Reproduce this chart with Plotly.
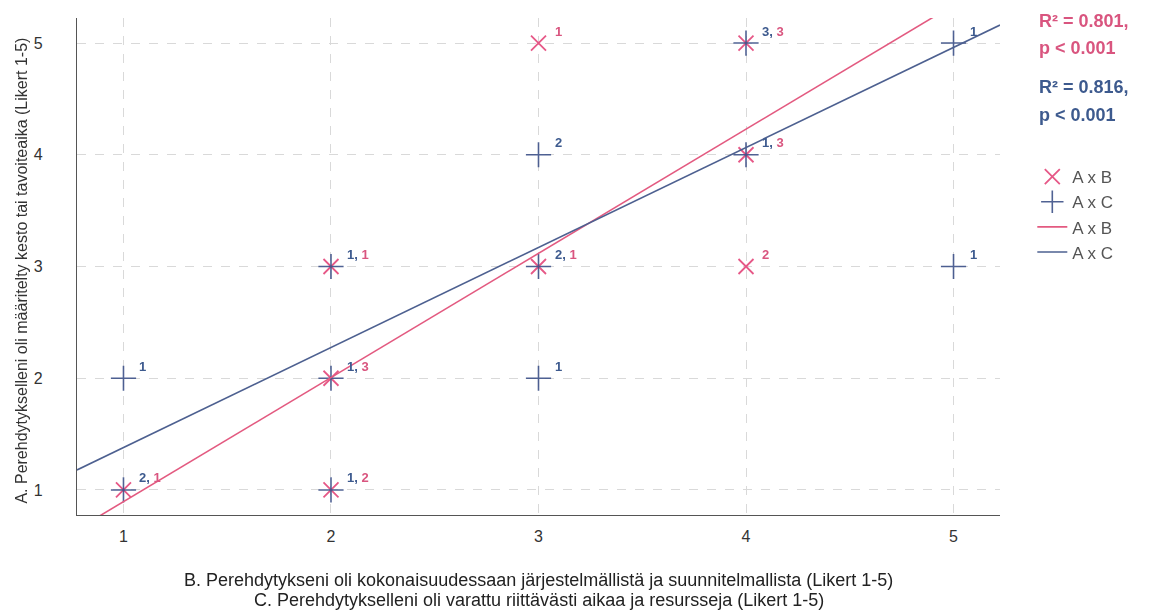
import numpy as np
import plotly.graph_objects as go

# ---- data (A = y, B / C = x), counts per cell ----
ab_x = [1, 2, 2, 2, 3, 3, 4, 4, 4]
ab_y = [1, 1, 2, 3, 3, 5, 3, 4, 5]
ab_n = [1, 2, 3, 1, 1, 1, 2, 3, 3]

ac_x = [1, 1, 2, 2, 2, 3, 3, 3, 4, 4, 5, 5]
ac_y = [1, 2, 1, 2, 3, 2, 3, 4, 4, 5, 3, 5]
ac_n = [2, 1, 1, 1, 1, 1, 2, 2, 1, 3, 1, 1]

tick_vals = [1, 2, 3, 4, 5]
stats_ab = ["R² = 0.801,", "p < 0.001"]
stats_ac = ["R² = 0.816,", "p < 0.001"]
x_title_lines = [
    "B. Perehdytykseni oli kokonaisuudessaan järjestelmällistä ja suunnitelmallista (Likert 1-5)",
    "C. Perehdytykselleni oli varattu riittävästi aikaa ja resursseja (Likert 1-5)",
]
y_title = "A. Perehdytykselleni oli määritelty kesto tai tavoiteaika (Likert 1-5)"

PINK = "#e4467a"
PINK_LINE = "#e35a80"
PINK_TXT = "#d9557f"
BLUE = "#3d5188"
BLUE_LINE = "#4d6090"
BLUE_TXT = "#3d5a8e"
FONT = "Liberation Sans, Arial, sans-serif"

RANGE = [0.776, 5.224]

fig = go.Figure()

fig.add_trace(go.Scatter(
    x=ab_x, y=ab_y, mode="markers", name="A x B",
    marker=dict(symbol="x-thin", size=15, color=PINK, line=dict(color=PINK, width=1.8)),
    opacity=0.9,
))
fig.add_trace(go.Scatter(
    x=ac_x, y=ac_y, mode="markers", name="A x C",
    marker=dict(symbol="cross-thin", size=18, color=BLUE, line=dict(color=BLUE, width=1.6)),
    opacity=0.9,
))

# regression lines (weighted by counts)
xx = np.array(RANGE)
for xs, ys, ns, col, nm in [(ab_x, ab_y, ab_n, PINK_LINE, "A x B"),
                            (ac_x, ac_y, ac_n, BLUE_LINE, "A x C")]:
    b, a = np.polyfit(np.repeat(xs, ns), np.repeat(ys, ns), 1)
    fig.add_trace(go.Scatter(x=xx, y=a + b * xx, mode="lines", name=nm,
                             line=dict(color=col, width=1.6)))

# point labels
cells = {}
for x, y, n in zip(ac_x, ac_y, ac_n):
    cells.setdefault((x, y), [None, None])[0] = n
for x, y, n in zip(ab_x, ab_y, ab_n):
    cells.setdefault((x, y), [None, None])[1] = n
for (x, y), (nc, nb) in cells.items():
    parts = []
    if nc is not None:
        parts.append(f"<span style='color:{BLUE_TXT}'>{nc}{',' if nb is not None else ''}</span>")
    if nb is not None:
        parts.append(f"<span style='color:{PINK_TXT}'>{nb}</span>")
    fig.add_annotation(x=x, y=y, text="<b>" + " ".join(parts) + "</b>", showarrow=False,
                       xanchor="left", yanchor="middle", xshift=14, yshift=12,
                       font=dict(size=13, family=FONT))

# stats text
for i, t in enumerate(stats_ab):
    fig.add_annotation(xref="paper", yref="paper", x=1.040, y=[0.994, 0.940][i],
                       text=f"<b>{t}</b>", showarrow=False, xanchor="left", yanchor="middle",
                       font=dict(size=18, color=PINK_TXT, family=FONT))
for i, t in enumerate(stats_ac):
    fig.add_annotation(xref="paper", yref="paper", x=1.040, y=[0.861, 0.805][i],
                       text=f"<b>{t}</b>", showarrow=False, xanchor="left", yanchor="middle",
                       font=dict(size=18, color=BLUE_TXT, family=FONT))

# axis titles
for i, t in enumerate(x_title_lines):
    fig.add_annotation(xref="paper", yref="paper", x=0.5, y=[-0.131, -0.171][i],
                       text=t, showarrow=False, xanchor="center", yanchor="middle",
                       font=dict(size=18, color="#222", family=FONT))
fig.add_annotation(xref="paper", yref="paper", x=-0.06, y=0.491, text=y_title,
                   textangle=-90, showarrow=False, xanchor="center", yanchor="middle",
                   font=dict(size=16, color="#333", family=FONT))

axis_common = dict(
    range=RANGE, tickvals=tick_vals, showgrid=True, gridcolor="#d9d9d9",
    griddash="dash", gridwidth=1, zeroline=False, showline=True,
    linecolor="#555", linewidth=1.2, ticks="", tickfont=dict(size=16, color="#333", family=FONT),
)
fig.update_xaxes(**axis_common, mirror=False, ticklabelstandoff=7)
fig.update_yaxes(**axis_common, mirror=False, ticklabelstandoff=30)

fig.update_layout(
    width=1151, height=612,
    margin=dict(l=77, r=151, t=18, b=97),
    plot_bgcolor="white", paper_bgcolor="white",
    font=dict(family=FONT),
    legend=dict(x=1.035, y=0.716, xanchor="left", yanchor="top",
                font=dict(size=17, color="#555", family=FONT),
                tracegroupgap=0, itemwidth=30, bgcolor="rgba(0,0,0,0)"),
)

fig.write_html("out.html", config={"displayModeBar": False},
               post_script="document.body.style.margin='0';")
